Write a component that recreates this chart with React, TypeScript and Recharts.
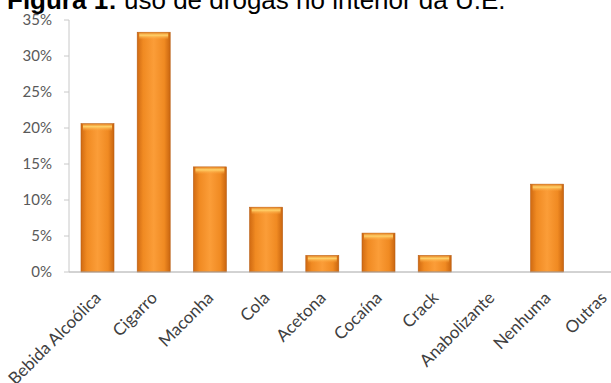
import React from 'react'
import { BarChart, Bar, XAxis, YAxis } from 'recharts'

const categories = [
  'Bebida Alcoólica',
  'Cigarro',
  'Maconha',
  'Cola',
  'Acetona',
  'Cocaína',
  'Crack',
  'Anabolizante',
  'Nenhuma',
  'Outras',
]
const usage = [20.6, 33.3, 14.6, 9.0, 2.3, 5.4, 2.3, 0, 12.2, 0]
const yTicks = [0, 5, 10, 15, 20, 25, 30, 35]

const chartData = categories.map((name, i) => ({ name, value: usage[i] }))

const FONT = 'Lato, "Liberation Sans", Arial, sans-serif'

const CategoryTick = (props: any) => {
  const { x, y, payload } = props
  return (
    <g transform={`translate(${x + 5},${y + 27})`}>
      <text
        transform="rotate(-45)"
        textAnchor="end"
        fontFamily={FONT}
        fontSize={17}
        fill="#404040"
      >
        {payload.value}
      </text>
    </g>
  )
}

const OrangeBar = (props: any) => {
  const { x, y, width, height, index } = props
  if (!height || height <= 0) return null
  const gid = `bar-h-${index}`
  const tid = `bar-t-${index}`
  const bevel = Math.min(7, height / 2)
  return (
    <g>
      <defs>
        <linearGradient id={gid} x1="0" y1="0" x2="1" y2="0">
          <stop offset="0%" stopColor="#d06a12" />
          <stop offset="18%" stopColor="#f08a22" />
          <stop offset="50%" stopColor="#fb9d38" />
          <stop offset="82%" stopColor="#f08a22" />
          <stop offset="100%" stopColor="#c9650f" />
        </linearGradient>
        <linearGradient id={tid} x1="0" y1="0" x2="0" y2="1">
          <stop offset="0%" stopColor="#e88a2a" />
          <stop offset="35%" stopColor="#ffd26a" />
          <stop offset="100%" stopColor="#fb9d38" stopOpacity={0} />
        </linearGradient>
      </defs>
      <rect x={x} y={y} width={width} height={height} fill={`url(#${gid})`} stroke="#b85e14" strokeWidth={0.6} />
      <rect x={x + 2} y={y + 0.5} width={width - 4} height={bevel} fill={`url(#${tid})`} />
    </g>
  )
}

export default function App() {
  return (
    <div style={{ position: 'absolute', left: 0, top: 0, width: 611, height: 383, overflow: 'hidden', background: '#fff' }}>
      <svg width={611} height={40} style={{ position: 'absolute', left: 0, top: 0 }}>
        <text x={7} y={8.5} fontFamily='"Liberation Sans", Arial, sans-serif' fontSize={26} fill="#000">
          <tspan fontWeight="bold">Figura 1:</tspan>
          <tspan> uso de drogas no interior da U.E.</tspan>
        </text>
      </svg>
      <BarChart
        width={632}
        height={383}
        data={chartData}
        margin={{ top: 20, right: 1, bottom: 0, left: 0 }}
        style={{ position: 'absolute', left: 0, top: 0 }}
      >
        <XAxis
          dataKey="name"
          interval={0}
          height={111}
          tickLine={false}
          tickSize={0}
          tickMargin={0}
          axisLine={{ stroke: '#a6a6a6' }}
          tick={<CategoryTick />}
        />
        <YAxis
          width={69}
          domain={[0, 35]}
          ticks={yTicks}
          interval={0}
          tickFormatter={(v: number) => `${v}%`}
          tickSize={5}
          tickMargin={12}
          axisLine={{ stroke: '#c8c8c8' }}
          tickLine={{ stroke: '#c8c8c8' }}
          tick={{ fontFamily: FONT, fontSize: 15, fill: '#595959' }}
        />
        <Bar dataKey="value" barSize={33} shape={<OrangeBar />} isAnimationActive={false} />
      </BarChart>
    </div>
  )
}
